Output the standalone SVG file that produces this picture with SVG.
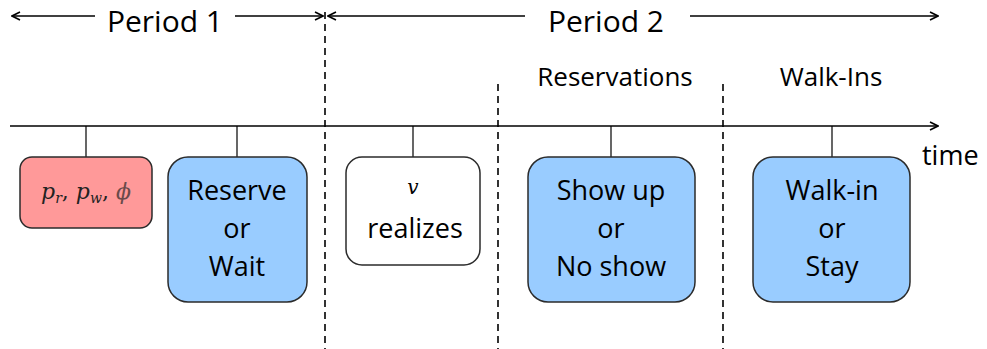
<svg xmlns="http://www.w3.org/2000/svg" width="987" height="349" viewBox="0 0 987 349">
  <defs>
    <marker id="arr" viewBox="0 0 10 10" refX="9" refY="5" markerWidth="10" markerHeight="10" markerUnits="userSpaceOnUse" orient="auto-start-reverse">
      <polyline points="1,1 9,5 1,9" fill="none" stroke="#000" stroke-width="1.6"/>
    </marker>
    <style>
      .line { stroke: #000; stroke-width: 1.5; fill: none; }
      .tick { stroke: #000; stroke-width: 1.2; }
      .dash { stroke: #000; stroke-width: 1.6; stroke-dasharray: 7 5; fill: none; }
      .box { stroke: #2b2b2b; stroke-width: 1.5; }
      .red { fill: #ff9999; }
      .blue { fill: #99ccff; }
      .white { fill: #ffffff; }
      text { font-family: "Open Sans", "Liberation Sans", sans-serif; fill: #000; }
      .big { font-size: 30px; text-anchor: middle; }
      .mid { font-size: 26px; text-anchor: middle; }
      .lbl { font-size: 27px; text-anchor: middle; }
      .math { font-family: "DejaVu Serif", "Liberation Serif", serif; font-style: italic; }
    </style>
  </defs>

  <!-- period headers -->
  <g id="period1">
    <line class="line" x1="95" y1="16" x2="12" y2="16" marker-end="url(#arr)"/>
    <line class="line" x1="235" y1="16" x2="323" y2="16" marker-end="url(#arr)"/>
    <text class="big" x="165" y="32">Period 1</text>
  </g>
  <g id="period2">
    <line class="line" x1="525" y1="16" x2="328" y2="16" marker-end="url(#arr)"/>
    <line class="line" x1="690" y1="16" x2="938" y2="16" marker-end="url(#arr)"/>
    <text class="big" x="606" y="32">Period 2</text>
  </g>
  <text class="mid" x="615" y="86">Reservations</text>
  <text class="mid" x="831" y="86">Walk-Ins</text>

  <!-- timeline, ticks and period separators -->
  <g id="connectors">
    <line class="line" x1="10" y1="126" x2="938" y2="126" marker-end="url(#arr)"/>
    <line class="tick" x1="86" y1="126" x2="86" y2="157"/>
    <line class="tick" x1="237" y1="126" x2="237" y2="157"/>
    <line class="tick" x1="413" y1="126" x2="413" y2="157"/>
    <line class="tick" x1="611" y1="126" x2="611" y2="157"/>
    <line class="tick" x1="832" y1="126" x2="832" y2="157"/>
    <line class="dash" x1="325" y1="12" x2="325" y2="349"/>
    <line class="dash" x1="498" y1="84" x2="498" y2="349"/>
    <line class="dash" x1="723" y1="84" x2="723" y2="349"/>
  </g>
  <text x="922" y="165" style="font-size:27px">time</text>

  <g id="params">
    <rect class="box red" x="20" y="157" width="132" height="71" rx="12"/>
    <text x="86" y="199" text-anchor="middle" font-size="22" class="math"><tspan fill="#222">p</tspan><tspan font-size="14" dy="4" fill="#222">r</tspan><tspan dy="-4" fill="#222" font-style="normal">, </tspan><tspan fill="#222">p</tspan><tspan font-size="14" dy="4" fill="#222">w</tspan><tspan dy="-4" fill="#222" font-style="normal">, </tspan><tspan fill="#6a4a4a">ϕ</tspan></text>
  </g>

  <g id="reserve">
    <rect class="box blue" x="168" y="157" width="139" height="145" rx="20"/>
    <text class="lbl" x="237" y="200">Reserve</text>
    <text class="lbl" x="237" y="238">or</text>
    <text class="lbl" x="237" y="276">Wait</text>
  </g>

  <g id="realize">
    <rect class="box white" x="346" y="157" width="134" height="108" rx="16"/>
    <text x="413" y="194" text-anchor="middle" font-size="20" class="math" fill="#2a3a6a">v</text>
    <text class="lbl" x="415" y="238">realizes</text>
  </g>

  <g id="show">
    <rect class="box blue" x="528" y="157" width="167" height="145" rx="20"/>
    <text class="lbl" x="611" y="200">Show up</text>
    <text class="lbl" x="611" y="238">or</text>
    <text class="lbl" x="611" y="276">No show</text>
  </g>

  <g id="walkin">
    <rect class="box blue" x="753" y="157" width="157" height="145" rx="20"/>
    <text class="lbl" x="832" y="200">Walk-in</text>
    <text class="lbl" x="832" y="238">or</text>
    <text class="lbl" x="832" y="276">Stay</text>
  </g>
</svg>
